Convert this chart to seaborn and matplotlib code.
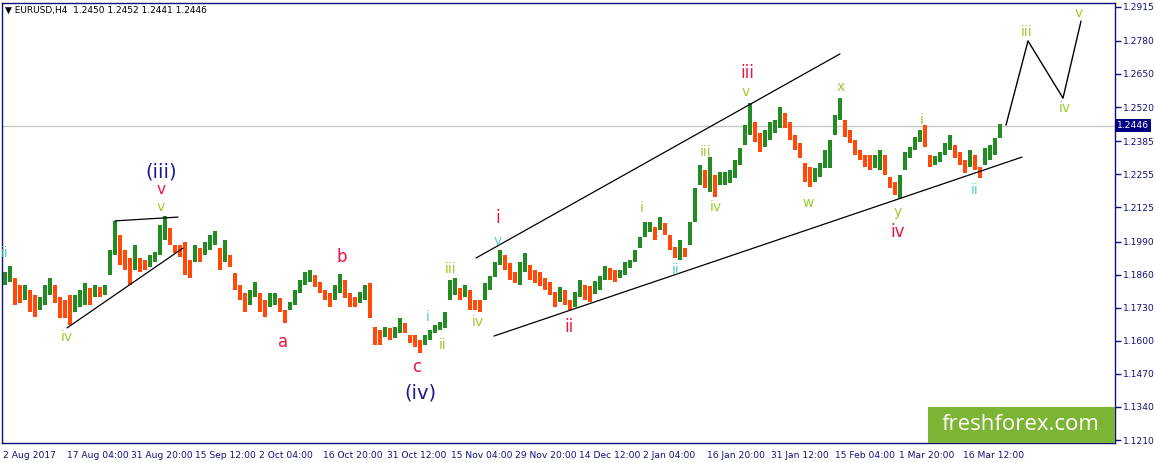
import numpy as np
import matplotlib
matplotlib.use("Agg")
import matplotlib.pyplot as plt
import matplotlib.transforms as mtransforms
from matplotlib.patches import Rectangle
import seaborn as sns

# ---------------- data (EURUSD H4, each entry = range of 5 consecutive bars) -------------
highs = [
    1.1871, 1.1894, 1.1848, 1.1820, 1.1820, 1.1800, 1.1780, 1.1772, 1.1820, 1.1848,
    1.1820, 1.1772, 1.1761, 1.1780, 1.1780, 1.1800, 1.1828, 1.1809, 1.1820, 1.1812,
    1.1820, 1.1958, 1.2072, 1.2016, 1.1958, 1.1927, 1.1977, 1.1927, 1.1918, 1.1938,
    1.1950, 1.2056, 1.2091, 1.2045, 1.1977, 1.1977, 1.1989, 1.1918, 1.1977, 1.1966,
    1.1989, 1.2016, 1.2032, 1.1966, 1.1997, 1.1938, 1.1867, 1.1820, 1.1788, 1.1800,
    1.1832, 1.1788, 1.1761, 1.1788, 1.1788, 1.1769, 1.1722, 1.1753, 1.1800, 1.1840,
    1.1871, 1.1879, 1.1859, 1.1832, 1.1800, 1.1788, 1.1820, 1.1863, 1.1840, 1.1788,
    1.1772, 1.1792, 1.1820, 1.1828, 1.1654, 1.1643, 1.1654, 1.1651, 1.1654, 1.1691,
    1.1670, 1.1623, 1.1623, 1.1603, 1.1623, 1.1643, 1.1662, 1.1674, 1.1714, 1.1840,
    1.1848, 1.1809, 1.1820, 1.1800, 1.1761, 1.1761, 1.1828, 1.1855, 1.1910, 1.1958,
    1.1938, 1.1906, 1.1871, 1.1910, 1.1946, 1.1898, 1.1879, 1.1871, 1.1848, 1.1832,
    1.1792, 1.1812, 1.1800, 1.1761, 1.1792, 1.1840, 1.1820, 1.1816, 1.1836, 1.1855,
    1.1894, 1.1887, 1.1879, 1.1879, 1.1910, 1.1918, 1.1958, 1.2009, 1.2068, 1.2068,
    1.2048, 1.2088, 1.2064, 1.2016, 1.1969, 1.1997, 1.1966, 1.2068, 1.2202, 1.2292,
    1.2272, 1.2324, 1.2252, 1.2264, 1.2264, 1.2272, 1.2312, 1.2359, 1.2449, 1.2536,
    1.2461, 1.2418, 1.2430, 1.2461, 1.2469, 1.2520, 1.2496, 1.2461, 1.2410, 1.2378,
    1.2300, 1.2284, 1.2280, 1.2300, 1.2351, 1.2390, 1.2488, 1.2556, 1.2469, 1.2430,
    1.2390, 1.2351, 1.2331, 1.2331, 1.2331, 1.2351, 1.2331, 1.2244, 1.2225, 1.2252,
    1.2343, 1.2362, 1.2402, 1.2430, 1.2449, 1.2331, 1.2327, 1.2343, 1.2378, 1.2410,
    1.2370, 1.2343, 1.2312, 1.2351, 1.2331, 1.2284, 1.2359, 1.2370, 1.2398, 1.2452,
]
lows = [
    1.1820, 1.1832, 1.1741, 1.1749, 1.1761, 1.1714, 1.1694, 1.1722, 1.1741, 1.1780,
    1.1749, 1.1691, 1.1691, 1.1662, 1.1714, 1.1733, 1.1741, 1.1741, 1.1772, 1.1772,
    1.1780, 1.1859, 1.1938, 1.1898, 1.1879, 1.1820, 1.1879, 1.1871, 1.1879, 1.1890,
    1.1910, 1.1938, 1.1997, 1.1977, 1.1946, 1.1930, 1.1859, 1.1848, 1.1910, 1.1910,
    1.1938, 1.1958, 1.1977, 1.1879, 1.1910, 1.1890, 1.1800, 1.1761, 1.1714, 1.1741,
    1.1772, 1.1714, 1.1694, 1.1733, 1.1741, 1.1714, 1.1670, 1.1722, 1.1741, 1.1788,
    1.1820, 1.1832, 1.1812, 1.1788, 1.1761, 1.1733, 1.1761, 1.1788, 1.1769, 1.1733,
    1.1733, 1.1749, 1.1761, 1.1691, 1.1583, 1.1583, 1.1615, 1.1603, 1.1611, 1.1631,
    1.1631, 1.1591, 1.1575, 1.1552, 1.1583, 1.1603, 1.1631, 1.1643, 1.1651, 1.1761,
    1.1780, 1.1761, 1.1772, 1.1722, 1.1722, 1.1714, 1.1761, 1.1800, 1.1851, 1.1898,
    1.1879, 1.1840, 1.1828, 1.1820, 1.1871, 1.1840, 1.1828, 1.1816, 1.1800, 1.1780,
    1.1733, 1.1753, 1.1741, 1.1722, 1.1733, 1.1772, 1.1761, 1.1753, 1.1784, 1.1800,
    1.1840, 1.1840, 1.1832, 1.1848, 1.1859, 1.1887, 1.1910, 1.1966, 1.2009, 1.2028,
    1.1997, 1.2036, 1.2016, 1.1958, 1.1927, 1.1918, 1.1930, 1.1977, 1.2068, 1.2213,
    1.2202, 1.2186, 1.2166, 1.2213, 1.2213, 1.2221, 1.2241, 1.2292, 1.2370, 1.2410,
    1.2382, 1.2343, 1.2362, 1.2390, 1.2418, 1.2438, 1.2438, 1.2390, 1.2351, 1.2320,
    1.2225, 1.2205, 1.2225, 1.2244, 1.2280, 1.2280, 1.2410, 1.2469, 1.2402, 1.2378,
    1.2331, 1.2312, 1.2284, 1.2272, 1.2280, 1.2272, 1.2252, 1.2202, 1.2174, 1.2163,
    1.2272, 1.2320, 1.2351, 1.2382, 1.2362, 1.2284, 1.2292, 1.2304, 1.2331, 1.2351,
    1.2320, 1.2292, 1.2260, 1.2284, 1.2272, 1.2241, 1.2292, 1.2312, 1.2331, 1.2400,
]
BARS_PER_SAMPLE = 5
date_labels = ["2 Aug 2017", "17 Aug 04:00", "31 Aug 20:00", "15 Sep 12:00",
               "2 Oct 04:00", "16 Oct 20:00", "31 Oct 12:00", "15 Nov 04:00",
               "29 Nov 20:00", "14 Dec 12:00", "2 Jan 04:00", "16 Jan 20:00",
               "31 Jan 12:00", "15 Feb 04:00", "1 Mar 20:00", "16 Mar 12:00"]
BARS_PER_DATE_LABEL = 64
price_ticks = [1.2915, 1.2780, 1.2650, 1.2520, 1.2385, 1.2255, 1.2125,
               1.1990, 1.1860, 1.1730, 1.1600, 1.1470, 1.1340, 1.1210]
last_price = 1.2446
header = "\u25BC EURUSD,H4  1.2450 1.2452 1.2441 1.2446"

# analyst drawings: (bar, price) pairs
trend_lines = [
    ([64, 180], [1.1651, 1.1965]),
    ([112, 175], [1.2072, 1.2087]),
    ([473, 837], [1.1926, 1.2729]),
    ([491, 1019], [1.1619, 1.2323]),
]
projection_bars = [1003, 1025, 1060, 1078]
projection_prices = [1.2449, 1.2780, 1.2555, 1.2858]

YG, CY, RD, NV = "#9ACD32", "#5CCFC0", "#F0143C", "#1A1A8C"
wave_labels = [
    ("ii", 2, 1.1946, CY, 10), ("iv", 64, 1.1615, YG, 10),
    ("(iii)", 158, 1.2264, NV, 14), ("v", 158, 1.2194, RD, 11), ("v", 158, 1.2126, YG, 10),
    ("a", 280, 1.1595, RD, 12), ("b", 339, 1.1930, RD, 12), ("c", 414, 1.1497, RD, 12),
    ("(iv)", 417, 1.1395, NV, 14), ("i", 425, 1.1694, CY, 10), ("ii", 440, 1.1583, YG, 10),
    ("iii", 448, 1.1883, YG, 10), ("iv", 475, 1.1674, YG, 10),
    ("i", 495, 1.2083, RD, 12), ("v", 495, 1.1993, CY, 10), ("ii", 566, 1.1655, RD, 12),
    ("i", 639, 1.2123, YG, 10), ("ii", 673, 1.1879, CY, 10), ("iii", 703, 1.2343, YG, 10),
    ("iv", 713, 1.2126, YG, 10), ("iii", 744, 1.2654, RD, 12), ("v", 743, 1.2579, YG, 10),
    ("w", 805, 1.2142, YG, 10), ("x", 838, 1.2599, YG, 10), ("i", 919, 1.2469, YG, 10),
    ("y", 895, 1.2107, YG, 10), ("iv", 895, 1.2028, RD, 12), ("ii", 972, 1.2194, CY, 10),
    ("iii", 1024, 1.2815, YG, 10), ("iv", 1062, 1.2516, YG, 10), ("v", 1076, 1.2890, YG, 10),
]

# ---------------- style ----------------
sns.set_style("white")
plt.rcParams['font.family'] = ['DejaVu Sans']
AXC = "#10107A"
BULL, BEAR = "#248A24", "#FF4A0A"

W, H = 1155, 463
fig = plt.figure(figsize=(W / 100, H / 100), dpi=100)
ax = fig.add_axes([2 / W, 20 / H, 1113 / W, 440 / H])

hi = np.array(highs)
lo = np.array(lows)
n = len(hi)
bar_pos = np.arange(n) * BARS_PER_SAMPLE + BARS_PER_SAMPLE // 2
mid = (hi + lo) / 2
change = np.diff(mid, prepend=mid[0])
cols = np.where(change >= 0, BULL, BEAR)
ax.vlines(bar_pos, lo, hi, colors=cols, linewidth=2.9, zorder=3)

# current price line
ax.axhline(last_price, color="#C8C8C8", lw=1, zorder=1)

# trend lines and projection
for bx, py in trend_lines:
    sns.lineplot(x=bx, y=py, ax=ax, color="black", lw=0.9, estimator=None,
                 sort=False, legend=False, zorder=4)
sns.lineplot(x=projection_bars, y=projection_prices, ax=ax, color="black", lw=1.0,
             estimator=None, sort=False, legend=False, zorder=4)

for txt, bx, py, c, fs in wave_labels:
    ax.text(bx, py, txt, color=c, fontsize=fs, ha="center", va="center", zorder=5)

ax.set_xlim(-1, 1112)
ax.set_ylim(1.11982, 1.29292)

ax.set_xticks(np.arange(len(date_labels)) * BARS_PER_DATE_LABEL)
ax.set_xticklabels(date_labels, ha="left", fontsize=6.6, color=AXC)
ax.yaxis.tick_right()
ax.set_yticks(price_ticks)
ax.set_yticklabels([f"{v:.4f}" for v in price_ticks], fontsize=6.6, color=AXC)
ax.tick_params(axis="x", direction="out", length=4, width=1, color=AXC, pad=2)
ax.tick_params(axis="y", direction="out", length=4, width=1, color=AXC, pad=2)
for s in ax.spines.values():
    s.set_visible(True)
    s.set_color(AXC)
    s.set_linewidth(1)
ax.set_xlabel("")
ax.set_ylabel("")

# last price box
tr = mtransforms.blended_transform_factory(ax.transAxes, ax.transData)
ax.text(1.0015, last_price, f"{last_price:.4f}", transform=tr, fontsize=6.6, color="white",
        ha="left", va="center", clip_on=False,
        bbox=dict(boxstyle="square,pad=0.2", fc="#000080", ec="none"), zorder=6)

fig.text(5 / W, 1 - 10 / H, header, fontsize=6.5, color="black", ha="left", va="center")

# watermark
fig.add_artist(Rectangle((928 / W, 20 / H), 187 / W, 36 / H, transform=fig.transFigure,
                         facecolor="#7CB434", edgecolor="none", zorder=8))
fig.text(1021 / W, 1 - 425 / H, "freshforex.com", fontsize=16, color="white",
         family=["Open Sans", "DejaVu Sans"], ha="center", va="center", zorder=9)

fig.savefig("out.png", dpi=100, facecolor="white")
